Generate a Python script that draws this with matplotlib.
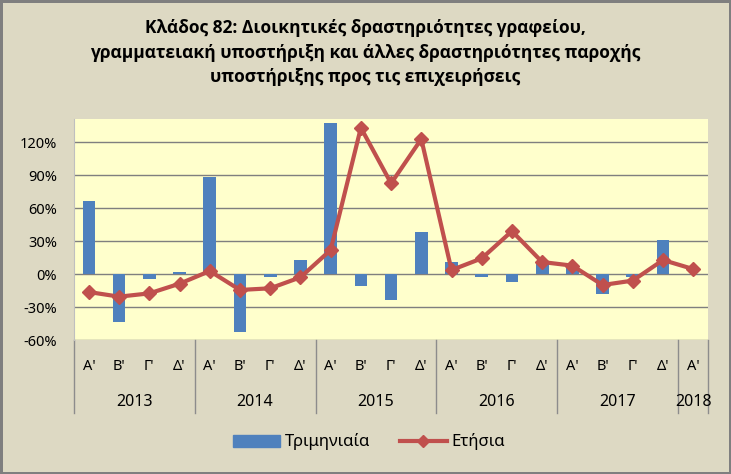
import numpy as np
import matplotlib.pyplot as plt
from matplotlib.patches import Patch
from matplotlib.lines import Line2D
import matplotlib.transforms as mtransforms

plt.rcParams['font.family'] = ['Noto Sans', 'DejaVu Sans']

# Data
quarters = ["Α'", "Β'", "Γ'", "Δ'"] * 5 + ["Α'"]
years = ["2013", "2014", "2015", "2016", "2017", "2018"]
quarterly = [66, -44, -4.5, 2,
             88, -53, -2.5, 12.5,
             137.5, -10.5, -24, 38,
             11, -2.4, -7.3, 12,
             7, -18, -2.5, 31,
             np.nan]
annual = [-16.4, -20.6, -17.6, -8.8,
          2.7, -14.5, -13, -3,
          21.8, 133, 82.4, 122.7,
          3.6, 14.2, 39, 10.9,
          7.6, -10, -6, 12.7,
          4.5]

bg = '#DDD9C3'
fig = plt.figure(figsize=(7.31, 4.74), dpi=100, facecolor=bg,
                 edgecolor='#7F7F7F', linewidth=2.5)
ax = fig.add_axes([0.101, 0.2827, 0.868, 0.4664])
ax.set_facecolor('#FFFFCC')

x = np.arange(len(quarters))
ax.bar(x, quarterly, width=0.42, color='#4F81BD', zorder=2)
ax.plot(x, annual, color='#C0504D', lw=3, marker='D', markersize=7, zorder=3)

ax.set_xlim(-0.5, len(quarters) - 0.5)
ax.set_ylim(-60, 141)
ax.set_yticks(range(-60, 121, 30))
ax.set_yticklabels([f"{v}%" for v in range(-60, 121, 30)])
ax.yaxis.grid(True, color='#7F7F7F', lw=1)
ax.set_axisbelow(True)
for s in ['top', 'right', 'bottom']:
    ax.spines[s].set_visible(False)
ax.spines['left'].set_color('#BFBFBF')
ax.tick_params(axis='y', length=0, pad=12, labelsize=10.5, labelcolor='black')

ax.set_xticks(x)
ax.set_xticklabels(quarters)
ax.tick_params(axis='x', length=0, pad=14, labelsize=10.5, labelcolor='black')

# year group labels and separators
trans = mtransforms.blended_transform_factory(ax.transData, ax.transAxes)
bounds = [-0.5, 3.5, 7.5, 11.5, 15.5, 19.5, 20.5]
for b in bounds:
    ax.plot([b, b], [0, -0.33], transform=trans, color='#8C8C8C', lw=1, clip_on=False)
for i, yr in enumerate(years):
    ax.text((bounds[i] + bounds[i + 1]) / 2, -0.28, yr, transform=trans,
            ha='center', va='center', fontsize=11.5)

title = ("Κλάδος 82: Διοικητικές δραστηριότητες γραφείου,\n"
         "γραμματειακή υποστήριξη και άλλες δραστηριότητες παροχής\n"
         "υποστήριξης προς τις επιχειρήσεις")
fig.text(0.5, 0.889, title, ha='center', va='center', fontsize=12.5,
         fontweight='bold', family=['Open Sans', 'DejaVu Sans'], linespacing=1.45)

handles = [Patch(color='#4F81BD'),
           Line2D([], [], color='#C0504D', lw=3, marker='D', markersize=6)]
fig.legend(handles, ['Τριμηνιαία', 'Ετήσια'], loc='center',
           bbox_to_anchor=(0.505, 1 - 442 / 474), ncol=2, frameon=False,
           fontsize=12, handlelength=2.8, handletextpad=0.3, columnspacing=1.8)

fig.savefig('out.png', dpi=100, facecolor=bg, edgecolor='#7F7F7F')
